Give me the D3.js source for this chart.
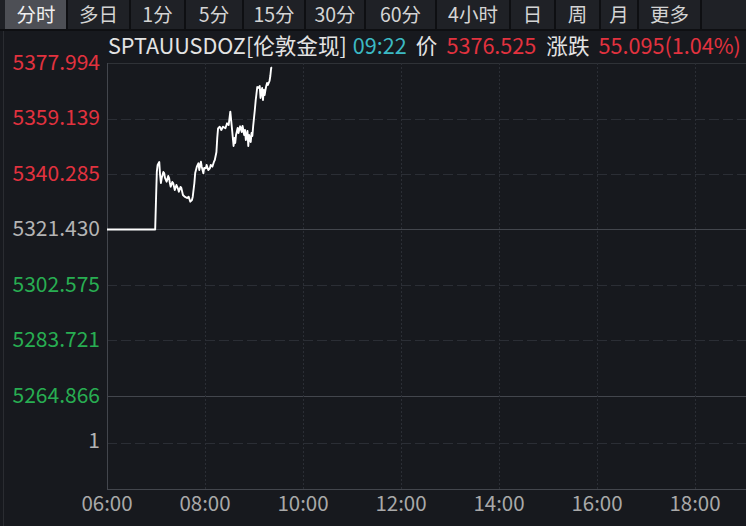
<!DOCTYPE html>
<html><head><meta charset="utf-8">
<script src="https://cdn.jsdelivr.net/npm/d3@7"></script>
<style>
html,body{margin:0;padding:0;background:#17191e;overflow:hidden;}
svg{display:block;font-family:"Noto Sans CJK SC","Noto Sans",sans-serif;}
</style></head>
<body>
<svg id="chart" width="746" height="526"></svg>
<script>
// ---------------- data ----------------
const tabs = ["分时","多日","1分","5分","15分","30分","60分","4小时","日","周","月","更多"];
const symbol = "SPTAUUSDOZ[伦敦金现]";
const lastTime = "09:22";
const lastPrice = "5376.525";
const change = "55.095(1.04%)";
const prevClose = 5321.430;
const yTickValues = [5377.994, 5359.139, 5340.285, 5321.430, 5302.575, 5283.721, 5264.866];
const volTickValues = [1];
const xTickLabels = ["06:00","08:00","10:00","12:00","14:00","16:00","18:00"];
const times = ["06:00","06:59","07:00","07:01","07:02","07:04","07:05","07:06","07:07","07:09","07:10","07:11","07:13","07:15","07:16","07:17","07:18","07:20","07:21","07:23","07:25","07:27","07:28","07:30","07:31","07:33","07:35","07:38","07:40","07:42","07:44","07:45","07:47","07:48","07:50","07:52","07:53","07:55","07:56","07:58","07:59","08:01","08:02","08:04","08:06","08:07","08:09","08:11","08:12","08:14","08:15","08:16","08:18","08:20","08:22","08:25","08:27","08:29","08:31","08:32","08:33","08:35","08:36","08:37","08:38","08:40","08:41","08:43","08:45","08:46","08:48","08:49","08:50","08:52","08:53","08:54","08:56","08:57","08:58","08:59","09:00","09:01","09:02","09:03","09:04","09:05","09:07","09:08","09:09","09:10","09:11","09:12","09:13","09:14","09:15","09:16","09:17","09:19","09:20","09:21","09:22"];
const prices = [5321.430,5321.430,5331.46,5340.97,5343.35,5344.37,5339.95,5337.23,5338.93,5340.97,5340.63,5338.93,5337.67,5339.61,5338.93,5337.23,5335.98,5337.57,5337.23,5334.86,5336.55,5335.20,5334.28,5335.88,5335.54,5333.16,5332.58,5332.14,5332.58,5330.88,5331.46,5332.58,5337.23,5340.63,5342.77,5343.93,5341.65,5344.47,5342.77,5340.53,5342.33,5342.23,5343.35,5341.65,5342.23,5343.35,5342.77,5344.47,5345.05,5347.76,5352.52,5355.81,5356.36,5355.24,5356.36,5355.81,5357.51,5356.93,5361.45,5358.63,5355.81,5349.80,5352.52,5350.82,5353.54,5355.92,5354.22,5356.49,5354.56,5356.60,5353.54,5355.24,5351.84,5354.90,5349.80,5353.54,5351.16,5354.22,5353.20,5356.60,5359.31,5362.03,5365.09,5367.46,5369.84,5369.50,5370.18,5366.11,5368.14,5369.50,5365.43,5368.82,5367.13,5368.82,5370.18,5371.20,5370.52,5371.88,5373.58,5376.30,5376.525];

// ---------------- layout ----------------
const W = 746, H = 526;
const plot = {left:107, right:746, top:63, mid:396, bottom:489};
const tabEdges = [5,67,130,185,243,305,365,436,510,555,600,638,701];
const C = {bg:"#17191e", tabBg:"#1f2126", tabSel:"#4d4f55", tabSep:"#0e0f12",
  red:"#e2323f", green:"#28ae52", gray:"#b4b4b4", white:"#e4e4e4", cyan:"#3cb9c4",
  grid:"#2b2e35", axis:"#43464d"};

const toMin = s => { const [h,m] = s.split(":").map(Number); return h*60+m; };
const svg = d3.select("#chart");
svg.append("rect").attr("width",W).attr("height",H).attr("fill",C.bg);

// tab bar
svg.append("rect").attr("x",0).attr("y",0).attr("width",W).attr("height",29).attr("fill",C.tabBg);
const tabG = svg.append("g");
tabs.forEach((t,i)=>{
  const x0 = tabEdges[i], x1 = tabEdges[i+1];
  if(i===0) tabG.append("rect").attr("x",x0).attr("y",0).attr("width",x1-x0).attr("height",29).attr("fill",C.tabSel);
  tabG.append("text").attr("x",(x0+x1)/2).attr("y",22).attr("text-anchor","middle")
    .attr("font-size",19.5).attr("fill", i===0 ? "#f0f0f0" : "#d4d4d4").text(t);
});
tabEdges.slice(1).forEach(x=>{
  tabG.append("rect").attr("x",x-1).attr("y",0).attr("width",2).attr("height",29).attr("fill",C.tabSep);
});
svg.append("rect").attr("x",0).attr("y",29).attr("width",W).attr("height",2).attr("fill",C.tabSep);
// left edge strip
svg.append("rect").attr("x",3).attr("y",31).attr("width",1).attr("height",H-31).attr("fill","#2a2c31");

// scales
const x = d3.scaleLinear().domain([toMin("06:00"), toMin("06:00") + (plot.right-plot.left)/49*60]).range([plot.left, plot.right]);
const y = d3.scaleLinear().domain([yTickValues[yTickValues.length-1], yTickValues[0]]).range([plot.mid, plot.top]);
const yv = d3.scaleLinear().domain([0, 2]).range([plot.bottom, plot.mid]);

// grid
const g = svg.append("g");
yTickValues.forEach(v=>{
  const yy = Math.round(y(v))+0.5;
  const solid = (v===prevClose || v===yTickValues[yTickValues.length-1]);
  const isTop = v===yTickValues[0];
  g.append("line").attr("x1",plot.left).attr("x2",plot.right).attr("y1",yy).attr("y2",yy)
    .attr("stroke", solid ? C.axis : (isTop ? "#2f3237" : C.grid))
    .attr("stroke-width",1)
    .attr("stroke-dasharray", (solid||isTop) ? null : "10,4");
});
volTickValues.forEach(v=>{
  const yy = Math.round(yv(v))+0.5;
  g.append("line").attr("x1",plot.left).attr("x2",plot.right).attr("y1",yy).attr("y2",yy)
    .attr("stroke",C.grid).attr("stroke-dasharray","10,4");
});
xTickLabels.slice(1).forEach(t=>{
  const xx = Math.round(x(toMin(t)))+0.5;
  g.append("line").attr("x1",xx).attr("x2",xx).attr("y1",plot.top).attr("y2",plot.bottom)
    .attr("stroke",C.grid).attr("stroke-dasharray","2,2");
});
// axes frame
g.append("line").attr("x1",plot.left+0.5).attr("x2",plot.left+0.5).attr("y1",plot.top).attr("y2",plot.bottom).attr("stroke",C.axis);
g.append("line").attr("x1",plot.left).attr("x2",plot.right).attr("y1",plot.bottom+0.5).attr("y2",plot.bottom+0.5).attr("stroke",C.axis);

// y labels
const yl = svg.append("g").attr("font-size",21).attr("text-anchor","end");
yTickValues.forEach(v=>{
  yl.append("text").attr("x",100).attr("y",y(v)+1).attr("dominant-baseline","middle")
    .attr("fill", v>prevClose ? C.red : (v<prevClose ? C.green : C.gray))
    .text(v.toFixed(3));
});
volTickValues.forEach(v=>{
  yl.append("text").attr("x",100).attr("y",yv(v)).attr("dominant-baseline","middle").attr("fill",C.gray).text(v);
});
// x labels
const xl = svg.append("g").attr("font-size",20.5).attr("text-anchor","middle").attr("fill","#a9a9a9");
xTickLabels.forEach(t=>{
  xl.append("text").attr("x",x(toMin(t))).attr("y",505).attr("dominant-baseline","middle").text(t);
});

// price line
const data = times.map((t,i)=>({t:toMin(t), p:prices[i]}));
svg.append("path").datum(data)
  .attr("fill","none").attr("stroke","#ffffff").attr("stroke-width",1.9).attr("stroke-linejoin","round")
  .attr("d", d3.line().x(d=>x(d.t)).y(d=>y(d.p)));

// header
const hdr = svg.append("text").attr("x",108).attr("y",54).attr("font-size",21.6);
hdr.append("tspan").attr("fill",C.white).text(symbol);
hdr.append("tspan").attr("fill",C.cyan).attr("dx",6).text(lastTime);
hdr.append("tspan").attr("fill",C.white).attr("dx",9).text("价");
hdr.append("tspan").attr("fill",C.red).attr("dx",9).text(lastPrice);
hdr.append("tspan").attr("fill",C.white).attr("dx",10).text("涨跌");
hdr.append("tspan").attr("fill",C.red).attr("dx",9).text(change);
</script>
</body></html>
